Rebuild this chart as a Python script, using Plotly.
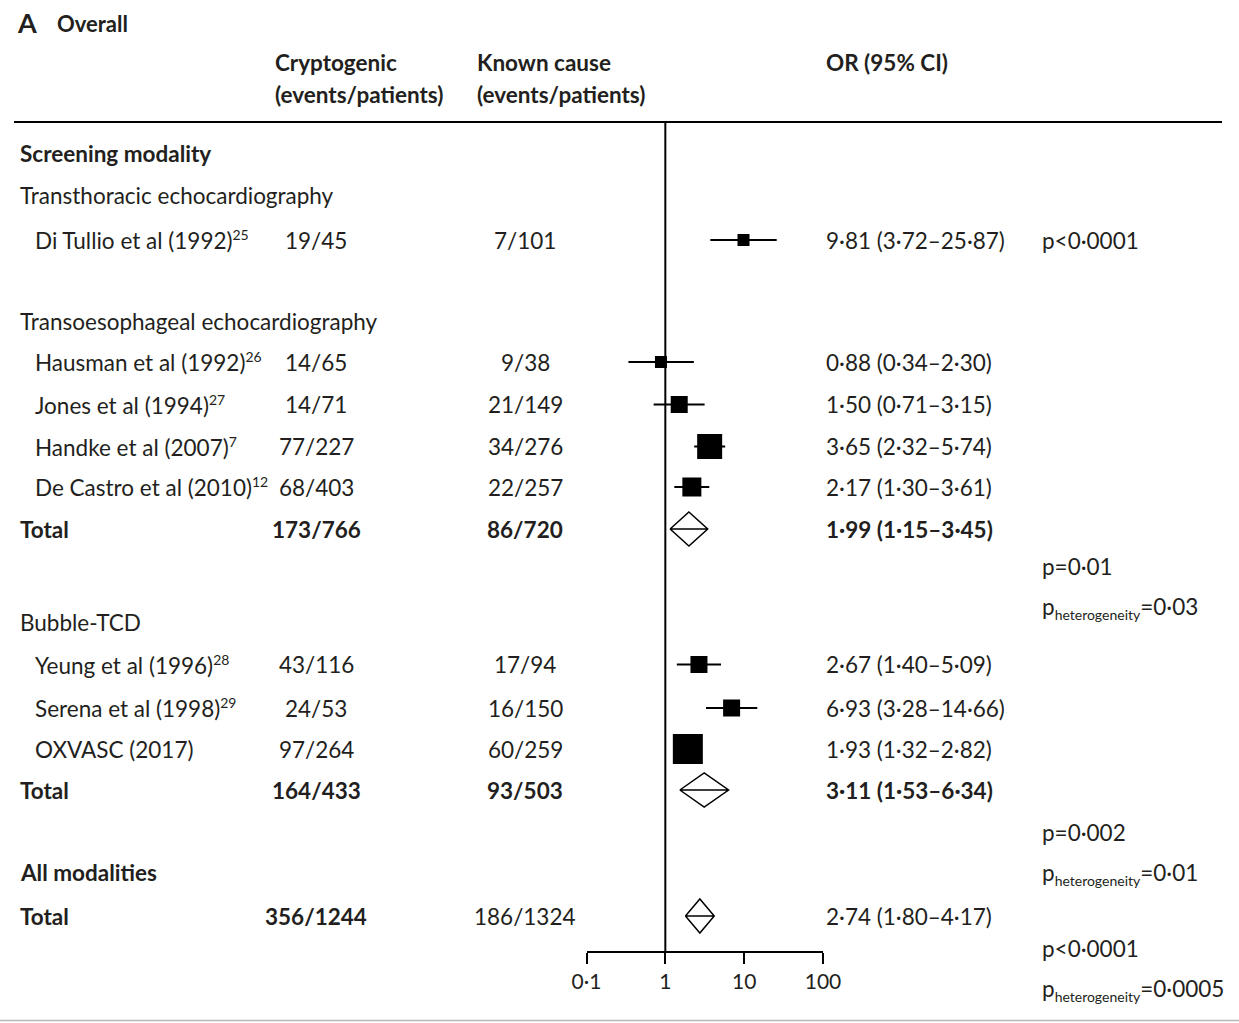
import plotly.graph_objects as go

W, H = 1239, 1023
INK = "#231f20"
FONT = "Lato"

# ---- study-level data -------------------------------------------------------
study_names = [
    "Di Tullio et al (1992)",
    "Hausman et al (1992)",
    "Jones et al (1994)",
    "Handke et al (2007)",
    "De Castro et al (2010)",
    "Yeung et al (1996)",
    "Serena et al (1998)",
    "OXVASC (2017)",
]
study_refs = ["25", "26", "27", "7", "12", "28", "29", ""]
crypt_events = [19, 14, 14, 77, 68, 43, 24, 97]
crypt_patients = [45, 65, 71, 227, 403, 116, 53, 264]
known_events = [7, 9, 21, 34, 22, 17, 16, 60]
known_patients = [101, 38, 149, 276, 257, 94, 150, 259]
odds_ratio = [9.81, 0.88, 1.50, 3.65, 2.17, 2.67, 6.93, 1.93]
ci_low = [3.72, 0.34, 0.71, 2.32, 1.30, 1.40, 3.28, 1.32]
ci_high = [25.87, 2.30, 3.15, 5.74, 3.61, 5.09, 14.66, 2.82]
study_p = ["p<0·0001", "", "", "", "", "", "", ""]

# ---- pooled estimates -------------------------------------------------------
total_crypt_events = [173, 164, 356]
total_crypt_patients = [766, 433, 1244]
total_known_events = [86, 93, 186]
total_known_patients = [720, 503, 1324]
total_or = [1.99, 3.11, 2.74]
total_low = [1.15, 1.53, 1.80]
total_high = [3.45, 6.34, 4.17]
total_p = ["p=0·01", "p=0·002", "p<0·0001"]
total_p_het = ["0·03", "0·01", "0·0005"]

# ---- axis ticks ---------------------------------------------------------------
tick_vals = [0.1, 1, 10, 100]
tick_text = ["0·1", "1", "10", "100"]

# ---- layout of rows (vertical pixel positions) and box sizes ------------------
study_rows = [240, 362, 404.5, 446.5, 487, 664.5, 708, 749]
box_size = [12, 12, 17, 25, 19, 17, 17, 30]
total_rows = [529, 790, 916]
total_p_rows = [566, 832, 948]
total_het_rows = [608, 874, 990]
total_bold = [(True, True, True), (True, True, True), (True, False, False)]
headings = [
    ("<b>Screening modality</b>", 153),
    ("Transthoracic echocardiography", 195),
    ("Transoesophageal echocardiography", 321),
    ("Bubble-TCD", 622),
    ("<b>All modalities</b>", 872),
]
DIAMOND_HALF = 17
SIZE = 22.5

X_LABEL, X_STUDY, X_CRYPT, X_KNOWN, X_OR, X_P = 18, 33, 316, 525, 824, 1040


def dec(v):
    return f"{v:.2f}".replace(".", "·")


def or_text(est, lo, hi):
    return f"{dec(est)} ({dec(lo)}–{dec(hi)})"


def bold(s, on):
    return f"<b>{s}</b>" if on else s


def small(s, px):
    return f"<span style='font-size:{px}px'>{s}</span>"


fig = go.Figure()

# confidence interval whiskers
wx, wy = [], []
for lo, hi, r in zip(ci_low, ci_high, study_rows):
    wx += [lo, hi, None]
    wy += [r, r, None]
fig.add_trace(go.Scatter(x=wx, y=wy, mode="lines",
                         line=dict(color="black", width=1.8),
                         hoverinfo="skip", showlegend=False))

# study point estimates
fig.add_trace(go.Scatter(x=odds_ratio, y=study_rows, mode="markers",
                         marker=dict(symbol="square", size=box_size, color="black",
                                     opacity=1, line=dict(width=0)),
                         showlegend=False))

# pooled diamonds with a horizontal centre line
for est, lo, hi, r in zip(total_or, total_low, total_high, total_rows):
    fig.add_trace(go.Scatter(
        x=[lo, est, hi, est, lo, hi],
        y=[r, r - DIAMOND_HALF, r, r + DIAMOND_HALF, r, r],
        mode="lines", line=dict(color="black", width=1.5),
        hoverinfo="skip", showlegend=False))

ann = []


def text(x, y, s, size=SIZE, anchor="left"):
    ann.append(dict(x=x / W, y=y, xref="paper", yref="y", text=s, showarrow=False,
                    xanchor=anchor, yanchor="middle",
                    font=dict(family=FONT, size=size, color=INK)))


# title and column headers
text(15, 22, "<b>A</b>", size=27)
text(55, 23, "<b>Overall</b>", size=22)
text(273, 62, "<b>Cryptogenic</b>")
text(273, 94, "<b>(events/patients)</b>")
text(475, 62, "<b>Known cause</b>")
text(475, 94, "<b>(events/patients)</b>")
text(824, 62, "<b>OR (95% CI)</b>")

for s, r in headings:
    text(X_LABEL, r, s)

for i, r in enumerate(study_rows):
    label = study_names[i]
    if study_refs[i]:
        label += f"<sup>{small(study_refs[i], 14)}</sup>"
    text(X_STUDY, r, label)
    text(X_CRYPT, r, f"{crypt_events[i]}/{crypt_patients[i]}", anchor="center")
    text(X_KNOWN, r, f"{known_events[i]}/{known_patients[i]}", anchor="center")
    text(X_OR, r, or_text(odds_ratio[i], ci_low[i], ci_high[i]))
    if study_p[i]:
        text(X_P, r, study_p[i])

for i, r in enumerate(total_rows):
    b1, b2, b3 = total_bold[i]
    text(X_LABEL, r, "<b>Total</b>")
    text(X_CRYPT, r, bold(f"{total_crypt_events[i]}/{total_crypt_patients[i]}", b1), anchor="center")
    text(X_KNOWN, r, bold(f"{total_known_events[i]}/{total_known_patients[i]}", b2), anchor="center")
    text(X_OR, r, bold(or_text(total_or[i], total_low[i], total_high[i]), b3))
    text(X_P, total_p_rows[i], total_p[i])
    text(X_P, total_het_rows[i],
         f"p<sub>{small('heterogeneity', 14)}</sub>={total_p_het[i]}")

shapes = [
    # header rule
    dict(type="line", xref="paper", yref="y", x0=14 / W, x1=1222 / W, y0=122, y1=122,
         line=dict(color="black", width=2)),
    # line of no effect
    dict(type="line", xref="x", yref="y", x0=1, x1=1, y0=122, y1=952,
         line=dict(color="black", width=2)),
    # bottom rule
    dict(type="line", xref="paper", yref="y", x0=0, x1=1, y0=1020.5, y1=1020.5,
         line=dict(color="#b8b8b8", width=1.5)),
]

fig.update_layout(
    width=W, height=H,
    margin=dict(l=0, r=0, t=0, b=0, autoexpand=False),
    paper_bgcolor="white", plot_bgcolor="white",
    annotations=ann, shapes=shapes,
    xaxis=dict(type="log", range=[-1, 2], domain=[586.5 / W, 823 / W],
               anchor="free", position=1 - 952 / H, automargin=False,
               showline=True, linecolor="black", linewidth=2,
               ticks="outside", ticklen=11, tickwidth=2, tickcolor="black",
               tickvals=tick_vals, ticktext=tick_text,
               tickfont=dict(family=FONT, size=21, color=INK),
               showgrid=False, zeroline=False, fixedrange=True),
    yaxis=dict(range=[H, 0], domain=[0, 1], visible=False, showgrid=False,
               zeroline=False, fixedrange=True, automargin=False),
    showlegend=False,
)

fig.write_html("out.html")
